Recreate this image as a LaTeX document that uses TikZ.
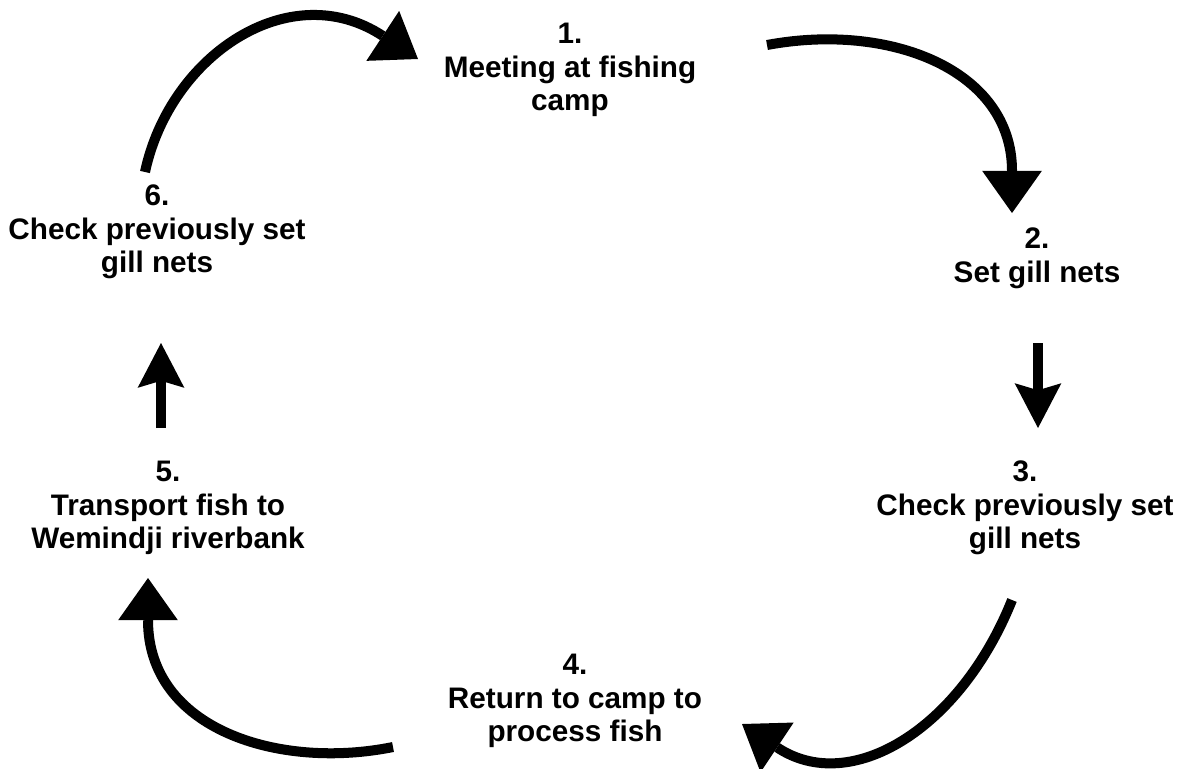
\documentclass[tikz,border=0pt]{standalone}
\usepackage{fontspec}
\setmainfont{Liberation Sans}
\usepackage{tikz}
\usetikzlibrary{arrows.meta, positioning}

\begin{document}
\begin{tikzpicture}[
  x=0.02cm, y=-0.02cm,
  st/.style={align=center, inner sep=0pt, font=\bfseries\fontsize{16.9}{19.1}\selectfont},
  curvy/.style={line width=5.7pt, -{Triangle[width=34pt, length=24pt, line width=0pt]}},
  shaft/.style={line width=6.2pt, -{Stealth[width=26.6pt, length=25.5pt, inset=4pt, line width=0pt]}},
]
  \useasboundingbox (0,0) rectangle (1185,768);

  \node[st] (s1) at (570,70) {1.\\Meeting at fishing\\camp};
  \node[st] (s2) at (1037,258) {2.\\Set gill nets};
  \node[st] (s3) at (1025,508) {3.\\Check previously set\\gill nets};
  \node[st] (s4) at (575,701) {4.\\Return to camp to\\process fish};
  \node[st] (s5) at (168,508) {5.\\Transport fish to\\Wemindji riverbank};
  \node[st] (s6) at (157,232) {6.\\Check previously set\\gill nets};

  % ends of the connectors
  \coordinate (from6) at (145,172);
  \coordinate (to1) at (418,59);
  \coordinate (from1) at (767,45);
  \coordinate (to2) at (1012,213);
  \coordinate (from2) at (1038,343);
  \coordinate (to3) at (1038,428);
  \coordinate (from3) at (1012,600);
  \coordinate (to4) at (742,724);
  \coordinate (from4) at (393,747);
  \coordinate (to5) at (148,578);
  \coordinate (from5) at (161,428);
  \coordinate (to6) at (161,343);

  \draw[curvy] (from6) .. controls (170,55) and (290,-25) .. (to1);
  \draw[curvy] (from1) .. controls (890,22) and (1012,70) .. (to2);
  \draw[shaft] (from2) -- (to3);
  \draw[curvy] (from3) .. controls (960,730) and (850,796) .. (to4);
  \draw[curvy] (from4) .. controls (280,770) and (148,730) .. (to5);
  \draw[shaft] (from5) -- (to6);
\end{tikzpicture}
\end{document}
